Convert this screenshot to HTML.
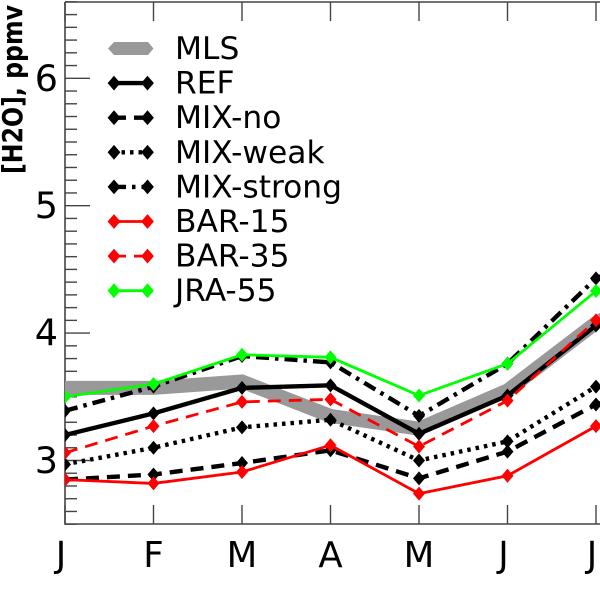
<!DOCTYPE html>
<html lang="en">
<head>
<meta charset="utf-8">
<title>H2O seasonal cycle</title>
<style>
html,body{margin:0;padding:0;background:#fff;width:600px;height:600px;overflow:hidden}
svg{display:block;font-family:"DejaVu Sans","Liberation Sans",sans-serif}
</style>
</head>
<body>
<svg id="chart" width="600" height="600" viewBox="0 0 600 600" xmlns="http://www.w3.org/2000/svg">
<defs><clipPath id="plot-clip"><rect x="65" y="2" width="535" height="522"/></clipPath></defs>
<rect width="600" height="600" fill="#fff"/>
<g id="axes"></g>
<g id="series" clip-path="url(#plot-clip)"></g>
<g id="legend"></g>
<text transform="translate(22,174) rotate(-90)" font-size="28" font-weight="700" fill="#000" textLength="169" lengthAdjust="spacingAndGlyphs">[H2O], ppmv</text>
</svg>
<script>
const months = ['J','F','M','A','M','J','J','A'];
const yMajorTicks = [3,4,5,6];
const mls       = [3.57,3.57,3.62,3.35,3.25,3.55,4.08,4.45];
const ref       = [3.20,3.37,3.57,3.59,3.21,3.51,4.06,4.42];
const mixNo     = [2.85,2.89,2.98,3.08,2.86,3.07,3.44,3.62];
const mixWeak   = [2.97,3.10,3.26,3.32,3.00,3.15,3.58,3.80];
const mixStrong = [3.39,3.58,3.82,3.77,3.35,3.76,4.43,4.70];
const bar15     = [2.85,2.82,2.91,3.12,2.74,2.88,3.27,3.45];
const bar35     = [3.06,3.27,3.46,3.48,3.11,3.47,4.10,4.40];
const jra55     = [3.50,3.60,3.83,3.81,3.51,3.76,4.33,4.60];

const NS = 'http://www.w3.org/2000/svg';
const AX = '#444';
function x(i){ return 65 + i * 88.5; }
function y(v){ return 460.5 - (v - 3) * 127.4; }
function mk(tag, attrs, parent){
  const e = document.createElementNS(NS, tag);
  for (const k in attrs) e.setAttribute(k, attrs[k]);
  parent.appendChild(e);
  return e;
}
const seriesList = [
  {label:'MLS',name:'mls',data:mls,color:'#999',w:14,dash:'',marker:false},
  {label:'REF',name:'ref',data:ref,color:'#000',w:4.4,dash:'',marker:true},
  {label:'MIX-no',name:'mix-no',data:mixNo,color:'#000',w:4.4,dash:'13 8',marker:true},
  {label:'MIX-weak',name:'mix-weak',data:mixWeak,color:'#000',w:4.4,dash:'3.5 5',marker:true},
  {label:'MIX-strong',name:'mix-strong',data:mixStrong,color:'#000',w:4.4,dash:'13 6 3.5 6',marker:true},
  {label:'BAR-15',name:'bar-15',data:bar15,color:'#f00',w:2.8,dash:'',marker:true},
  {label:'BAR-35',name:'bar-35',data:bar35,color:'#f00',w:2.8,dash:'13 8',marker:true},
  {label:'JRA-55',name:'jra-55',data:jra55,color:'#0f0',w:2.8,dash:'',marker:true}
];
function diamond(cx, cy, r){
  return (cx-r)+','+cy+' '+cx+','+(cy-r-1)+' '+(cx+r)+','+cy+' '+cx+','+(cy+r+1);
}

const axes = document.getElementById('axes');
const spine = mk('path',{d:'M65 2H600M65 2V524H600',fill:'none',stroke:AX,'stroke-width':1.6},axes);


for (let t = 25; t <= 66; t++){
  const v = t / 10;
  const major = t % 10 === 0;
  const l = mk('line',{x1:65,x2:major?90:77,y1:y(v),y2:y(v),stroke:AX,'stroke-width':1.4},axes);
  
  
}
yMajorTicks.forEach(v=>{
  const t = mk('text',{x:58,y:y(v)+12.5,'text-anchor':'end','font-size':36.5,fill:'#000'},axes);
  
  
  t.textContent = v;
});
months.forEach((m,i)=>{
  const a = mk('line',{x1:x(i),x2:x(i),y1:505,y2:524,stroke:AX,'stroke-width':1.4},axes);
  
  
  const b = mk('line',{x1:x(i),x2:x(i),y1:2,y2:21,stroke:AX,'stroke-width':1.4},axes);
  
  
  const t = mk('text',{x:x(i)+(m==='J'?-4:0),y:567,'text-anchor':'middle','font-size':35.5,fill:'#000'},axes);
  
  
  t.textContent = m;
});

const sg = document.getElementById('series');
seriesList.forEach(s=>{
  const g = mk('g',{},sg);
  
  
  const pts = s.data.map((v,i)=>x(i)+','+y(v)).join(' ');
  const attrs = {points:pts,fill:'none',stroke:s.color,'stroke-width':s.w,'stroke-linejoin':'miter'};
  if (s.dash) attrs['stroke-dasharray'] = s.dash;
  const line = mk('polyline',attrs,g);
  
  
  if (s.marker){
    s.data.forEach((v,i)=>{
      const p = mk('polygon',{points:diamond(x(i),y(v),6),fill:s.color},g);
      
      
    });
  }
});

const lg = document.getElementById('legend');
seriesList.forEach((s,i)=>{
  const ly = 48.5 + i * 34.6;
  const g = mk('g',{},lg);
  
  
  if (s.marker){
    const attrs = {x1:113,x2:149,y1:ly,y2:ly,stroke:s.color,'stroke-width':s.w};
    if (s.dash) attrs['stroke-dasharray'] = s.dash;
    const l = mk('line',attrs,g);
    
    
    [114,147.5].forEach(cx=>{
      const p = mk('polygon',{points:diamond(cx,ly,6.4),fill:s.color},g);
      
      
    });
  } else {
    const p = mk('polygon',{points:'108,'+ly+' 114,'+(ly-6.5)+' 148,'+(ly-6.5)+' 153.5,'+ly+' 148,'+(ly+6.5)+' 114,'+(ly+6.5),fill:s.color},g);
    
    
  }
  const t = mk('text',{x:175,y:ly+10.5,'font-size':31.3,fill:'#000'},g);
  
  
  t.textContent = s.label;
});
</script>
</body>
</html>
